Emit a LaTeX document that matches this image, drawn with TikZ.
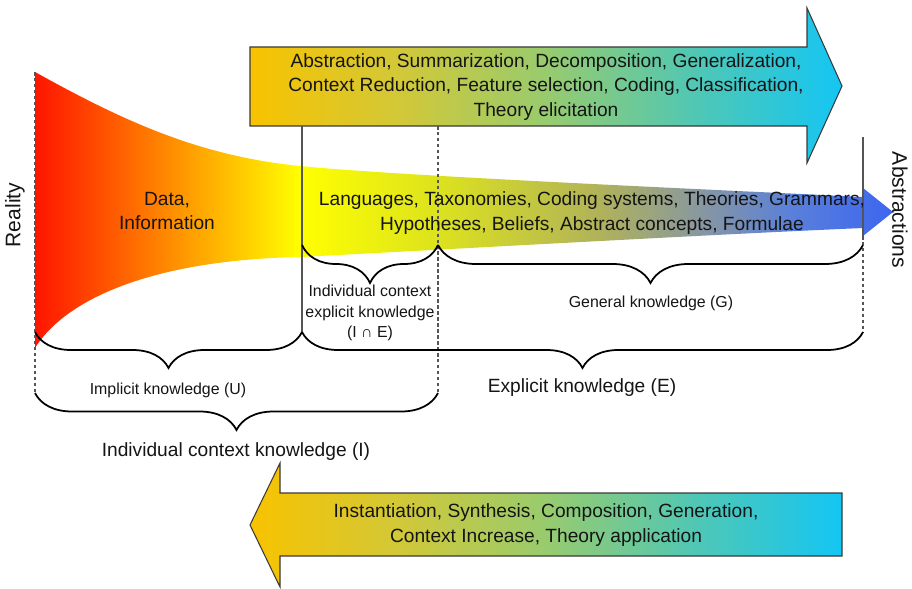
\documentclass[tikz,border=0pt]{standalone}
\usepackage{fontspec}
\setmainfont{Liberation Sans}
\usetikzlibrary{decorations.pathreplacing}

% funnel colours, from reality (left) to abstractions (right)
\definecolor{fRed}{HTML}{FF1500}
\definecolor{fYellow}{HTML}{FFFF00}
\definecolor{fLime}{HTML}{DCE21E}
\definecolor{fOlive}{HTML}{B0B25A}
\definecolor{fSlate}{HTML}{8898A0}
\definecolor{fSky}{HTML}{5A80DA}
\definecolor{fBlue}{HTML}{3C66F0}
% process arrows
\definecolor{aGold}{HTML}{F8C300}
\definecolor{aOlive}{HTML}{D2C838}
\definecolor{aGreen}{HTML}{98CB6E}
\definecolor{aTeal}{HTML}{4EC7B6}
\definecolor{aCyan}{HTML}{14C6F4}
\definecolor{edge}{HTML}{3A3A3A}
\definecolor{guide}{HTML}{555555}
\definecolor{ink}{HTML}{151515}

% the path's bounding box spans 25bp..75bp of each shading
\pgfdeclarehorizontalshading{funnelshade}{100bp}{%
  color(0bp)=(fRed); color(25bp)=(fRed); color(40.44bp)=(fYellow);
  color(48.6bp)=(fLime); color(57.93bp)=(fOlive); color(63.75bp)=(fSlate);
  color(69bp)=(fSky); color(75bp)=(fBlue); color(100bp)=(fBlue)}
\pgfdeclarehorizontalshading{flowshade}{100bp}{%
  color(0bp)=(aGold); color(25bp)=(aGold); color(37.65bp)=(aOlive);
  color(49.96bp)=(aGreen); color(62.94bp)=(aTeal); color(75bp)=(aCyan);
  color(100bp)=(aCyan)}

\begin{document}
\begin{tikzpicture}[x=0.02cm, y=-0.02cm,
  bigtext/.style={text=ink, align=center, inner sep=0pt,
    font=\fontsize{10.9pt}{14.2pt}\selectfont},
  smalltext/.style={text=ink, align=center, inner sep=0pt,
    font=\fontsize{9.05pt}{11.7pt}\selectfont},
  sidetext/.style={text=ink, inner sep=0pt,
    font=\fontsize{12pt}{14pt}\selectfont},
  flowarrow/.style={shading=flowshade, draw=edge, line width=0.6pt},
  solidguide/.style={draw=guide, line width=0.6pt},
  dashguide/.style={draw=guide, line width=0.6pt, dash pattern=on 2pt off 1.4pt},
  bracemark/.style={draw=black, line width=1pt, decorate,
    decoration={brace, mirror, amplitude=#1}},
]
\useasboundingbox (0,0) rectangle (912,588);

% knowledge funnel
\shade[shading=funnelshade]
  (35,72) .. controls (125,122) and (200,156) .. (300,166)
  .. controls (400,176) and (700,189) .. (863,197)
  -- (863,188) -- (893,212) -- (863,236) -- (863,228)
  .. controls (700,235) and (400,252) .. (300,257)
  .. controls (150,260) and (65,300) .. (35,348) -- cycle;

% abstraction arrow (top)
\shadedraw[flowarrow] (250,47) -- (807,47) -- (807,8) -- (842,86)
  -- (807,163) -- (807,126) -- (250,126) -- cycle;
% instantiation arrow (bottom)
\shadedraw[flowarrow] (842,493) -- (280,493) -- (280,463) -- (250,525)
  -- (280,587) -- (280,556) -- (842,556) -- cycle;

% guide lines
\draw[dashguide] (35,72) -- (35,393);
\draw[solidguide] (302,126) -- (302,332);
\draw[dashguide] (438,126) -- (438,393);
\draw[solidguide] (863,137) -- (863,236);
\draw[dashguide] (863,236) -- (863,332);

% braces
\draw[bracemark=0.76cm] (302,245) -- (438,245);
\draw[bracemark=0.76cm] (438,245) -- (863,245);
\draw[bracemark=0.72cm] (35,332) -- (302,332);
\draw[bracemark=0.72cm] (302,332) -- (863,332);
\draw[bracemark=0.74cm] (35,393) -- (438,393);

% texts
\node[bigtext] (abstr) at (546,87)
  {Abstraction, Summarization, Decomposition, Generalization,\\
   Context Reduction, Feature selection, Coding, Classification,\\
   Theory elicitation};
\node[bigtext] (inst) at (546,525)
  {Instantiation, Synthesis, Composition, Generation,\\
   Context Increase, Theory application};
\node[bigtext] (data) at (167,211) {Data,\\Information};
\node[bigtext] (lang) at (592,213)
  {Languages, Taxonomies, Coding systems, Theories, Grammars,\\
   Hypotheses, Beliefs, Abstract concepts, Formulae};
\node[sidetext, rotate=90] (reality) at (15,215) {Reality};
\node[sidetext, rotate=-90] (abstractions) at (900,210) {Abstractions};

\node[smalltext] (ie) at (370,313)
  {Individual context\\explicit knowledge\\(I ∩ E)};
\node[smalltext] (gen) at (651,303) {General knowledge (G)};
\node[smalltext] (impl) at (168,390) {Implicit knowledge (U)};
\node[bigtext] (expl) at (582,388) {Explicit knowledge (E)};
\node[bigtext] (indiv) at (236,452) {Individual context knowledge (I)};
\end{tikzpicture}
\end{document}
